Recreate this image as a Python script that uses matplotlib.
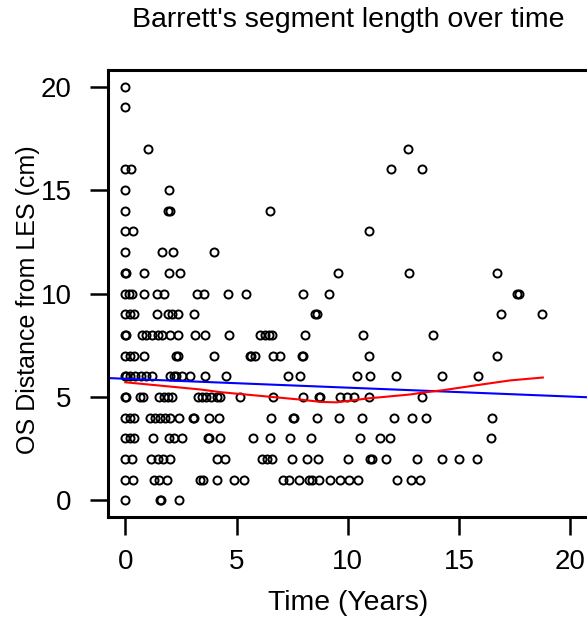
import numpy as np
import matplotlib
matplotlib.use("Agg")
import matplotlib.pyplot as plt

plt.rcParams['font.family'] = ['Liberation Sans', 'DejaVu Sans']

# observed points, grouped by OS distance (cm) -> follow-up times (years)
rows = {
    20: [0],
    19: [0],
    17: [1.0, 12.7],
    16: [0, 0.25, 11.95, 13.35],
    15: [0, 1.98],
    14: [0, 1.9, 2.0, 6.49],
    13: [0, 0.35, 10.97],
    12: [0, 1.65, 2.13, 3.97],
    11: [0, 0.05, 0.82, 1.98, 2.47, 9.54, 12.74, 16.73],
    10: [0, 0.15, 0.3, 0.85, 1.42, 1.75, 3.22, 3.55, 4.6, 5.42, 8.0, 9.14, 17.6, 17.7],
    9: [0, 0.2, 0.4, 1.42, 1.9, 2.1, 2.35, 3.1, 8.55, 8.6, 16.9, 18.74],
    8: [0, 0.05, 0.75, 0.95, 1.2, 1.45, 1.65, 2.02, 2.37, 3.15, 3.57, 4.67,
        6.04, 6.3, 6.45, 6.6, 8.09, 10.67, 13.83],
    7: [0, 0.2, 0.4, 0.82, 2.3, 2.35, 3.97, 5.62, 5.65, 5.85, 6.62, 6.97,
        7.94, 7.98, 10.97, 16.73],
    6: [0, 0.02, 0.2, 0.45, 0.7, 0.95, 1.2, 2.02, 2.2, 2.3, 2.55, 2.92, 3.6,
        4.52, 7.3, 7.87, 10.41, 10.98, 12.16, 14.25, 15.85],
    5: [0, 0.02, 0.65, 0.8, 1.5, 1.75, 1.9, 2.1, 3.25, 3.45, 3.65, 3.85, 4.1,
        4.27, 5.17, 6.64, 8.01, 8.69, 8.76, 9.66, 9.96, 10.26, 10.94, 13.35],
    4: [0, 0.2, 0.4, 1.12, 1.35, 1.55, 1.8, 2.0, 2.4, 3.05, 3.1, 3.75, 4.2,
        6.55, 7.55, 7.6, 8.62, 9.59, 10.64, 12.1, 12.88, 13.53, 16.5],
    3: [0, 0.2, 0.4, 1.23, 1.95, 2.2, 2.55, 3.72, 3.78, 4.27, 5.72, 6.52,
        7.42, 8.36, 10.56, 11.46, 11.88, 16.42],
    2: [0, 0.3, 1.17, 1.45, 1.7, 2.02, 4.12, 4.49, 6.14, 6.35, 6.6, 7.49,
        8.17, 8.65, 10.0, 10.98, 11.1, 11.73, 13.1, 14.23, 14.98, 15.8],
    1: [0, 0.35, 1.27, 1.5, 1.87, 3.37, 3.5, 4.12, 4.87, 5.32, 7.1, 7.35,
        7.8, 8.25, 8.4, 8.7, 9.2, 9.66, 10.04, 10.44, 12.2, 12.85, 13.25],
    0: [0, 1.57, 1.62, 2.4],
}

# linear fit (blue) and lowess smooth (red)
fit_intercept = 5.88
fit_slope = -0.043
smooth_x = [0, 3.4, 4.3, 7.9, 8.8, 9.5, 10.9, 12.8, 13.3, 14.3, 15.8, 17.3, 18.77]
smooth_y = [5.71, 5.36, 5.23, 4.87, 4.76, 4.74, 4.93, 5.12, 5.2, 5.33, 5.57, 5.8, 5.94]

xticks = [0, 5, 10, 15, 20]
yticks = [0, 5, 10, 15, 20]

x = []
y = []
for val, times in rows.items():
    x += times
    y += [val] * len(times)

W, H = 587, 617
fig = plt.figure(figsize=(W / 100, H / 100), dpi=100)
ax = fig.add_axes([107.5 / W, (H - 517) / H, (588 - 107.5) / W, (517 - 70) / H])

ax.plot(x, y, 'o', mfc='none', mec='black', ms=5.8, mew=1.4)
ax.axline((0, fit_intercept), slope=fit_slope, color='blue', lw=1.5)
ax.plot(smooth_x, smooth_y, color='red', lw=1.5)

ax.set_xlim(-0.8, 20.8)
ax.set_ylim(-0.8, 20.8)
ax.set_xticks(xticks)
ax.set_yticks(yticks)
for s in ax.spines.values():
    s.set_linewidth(2.2)
ax.tick_params(direction='out', length=13, width=1.8, labelsize=20)
ax.tick_params(axis='x', pad=10)
ax.tick_params(axis='y', pad=13)

ax.set_xlabel('Time (Years)', fontsize=20.4)
ax.set_ylabel('OS Distance from LES (cm)', fontsize=18)
ax.xaxis.set_label_coords(0.5, -(603 - 517) / 447)
ax.xaxis.label.set_va('center')
ax.yaxis.set_label_coords((28 - 107.5) / 480.5, (517 - 300) / 447)
ax.yaxis.label.set_va('center')

fig.text((107.5 + 588) / 2 / W, 1 - 20 / H, "Barrett's segment length over time",
         fontsize=20.5, ha='center', va='center')

fig.savefig('out.png', dpi=100)
